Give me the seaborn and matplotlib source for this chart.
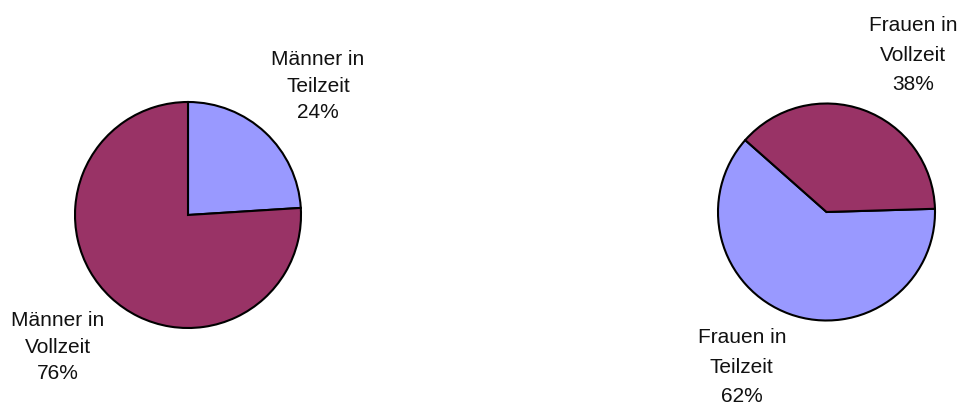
"""Teilzeit/Vollzeit shares for men and women as two pie charts."""

import matplotlib

matplotlib.use("Agg")
import matplotlib.pyplot as plt
import seaborn as sns

# data
men_labels = ["Männer in\nTeilzeit", "Männer in\nVollzeit"]
men_shares = [24, 76]
women_labels = ["Frauen in\nTeilzeit", "Frauen in\nVollzeit"]
women_shares = [62, 38]

PURPLE = "#993366"
LAVENDER = "#9999FF"
men_colors = [LAVENDER, PURPLE]
women_colors = [LAVENDER, PURPLE]

W, H = 960, 405

sns.set_theme(style="white")
plt.rcParams["font.family"] = ["Liberation Sans", "DejaVu Sans"]


def pie_axes(fig, cx, cy, r):
    # cx, cy, r in pixels, y measured from the top
    return fig.add_axes([(cx - r) / W, (H - cy - r) / H, 2 * r / W, 2 * r / H])


def draw_pie(ax, shares, labels, colors, startangle, counterclock, label_pos, linespacing):
    wedges, _ = ax.pie(
        shares,
        colors=colors,
        startangle=startangle,
        counterclock=counterclock,
        wedgeprops={"edgecolor": "black", "linewidth": 1.5},
    )
    ax.set_xlim(-1, 1)
    ax.set_ylim(-1, 1)
    ax.set_aspect("equal")
    ax.axis("off")
    for label, share, (x, y) in zip(labels, shares, label_pos):
        ax.text(x, y, f"{label}\n{share}%", ha="center", va="center",
                fontsize=15, color="#111111", linespacing=linespacing)


fig = plt.figure(figsize=(W / 100, H / 100), dpi=100)

ax_men = pie_axes(fig, 188, 215, 113)
draw_pie(ax_men, men_shares, men_labels, men_colors, 90, False,
         [(1.15, 1.14), (-1.155, -1.17)], 1.5)

ax_women = pie_axes(fig, 826.5, 212, 108.5)
draw_pie(ax_women, women_shares, women_labels, women_colors, 138.5, True,
         [(-0.78, -1.43), (0.797, 1.447)], 1.72)

fig.savefig("out.png", dpi=100, facecolor="white")
plt.close(fig)
